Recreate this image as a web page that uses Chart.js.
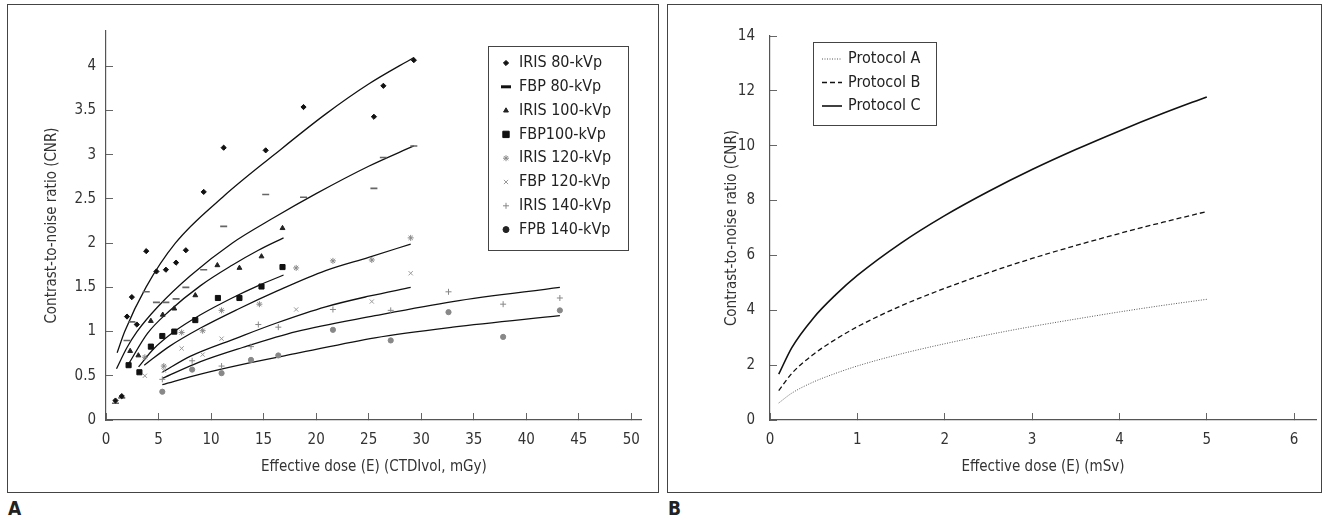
<!DOCTYPE html>
<html lang="en">
<head>
<meta charset="UTF-8">
<title>CNR vs effective dose</title>
<script src="https://cdn.jsdelivr.net/npm/chart.js"></script>
<style>
    body { margin: 0; background: #fff; width: 1328px; height: 520px; position: relative; overflow: hidden;
           font-family: "DejaVu Sans Condensed", "DejaVu Sans", sans-serif; }
    .panel { position: absolute; top: 4px; height: 487px; border: 1px solid #444; }
    #panelA { left: 7px; width: 650px; }
    #panelB { left: 667px; width: 653px; }
    .panel canvas { position: absolute; left: 0; top: 0; }
    .tag { position: absolute; top: 497px; font-weight: bold; font-size: 19px; color: #222; }
</style>
</head>
<body>
<div class="panel" id="panelA"><canvas id="chartA" width="650" height="487"></canvas></div>
<div class="panel" id="panelB"><canvas id="chartB" width="653" height="487"></canvas></div>
<div class="tag" style="left:8px">A</div>
<div class="tag" style="left:668px">B</div>

<script>
// ---- panel A: measured points (CTDIvol, CNR) ----
const iris80X = [0.9, 1.5, 2.0, 2.46, 2.93, 3.83, 4.8, 5.7, 6.67, 7.6, 9.3, 11.2, 15.2, 18.8, 25.5, 26.4, 29.3];
const iris80Y = [0.22, 0.27, 1.17, 1.39, 1.08, 1.91, 1.68, 1.70, 1.78, 1.92, 2.58, 3.08, 3.05, 3.54, 3.43, 3.78, 4.07];
const fbp80X = [0.9, 1.5, 2.0, 2.46, 3.83, 4.8, 5.7, 6.67, 7.6, 9.3, 11.2, 15.2, 18.8, 25.5, 26.4, 29.3];
const fbp80Y = [0.19, 0.25, 0.90, 1.11, 1.45, 1.33, 1.33, 1.37, 1.50, 1.70, 2.19, 2.55, 2.52, 2.62, 2.97, 3.10];
const iris100X = [2.3, 3.08, 4.27, 5.4, 6.5, 8.5, 10.6, 12.7, 14.8, 16.8];
const iris100Y = [0.78, 0.73, 1.12, 1.19, 1.26, 1.41, 1.75, 1.72, 1.85, 2.17];
const fbp100X = [2.15, 3.18, 4.27, 5.36, 6.5, 8.5, 10.65, 12.7, 14.8, 16.8];
const fbp100Y = [0.62, 0.54, 0.83, 0.95, 1.00, 1.13, 1.38, 1.38, 1.51, 1.73];
const iris120X = [3.7, 5.5, 7.2, 9.2, 11.0, 14.6, 18.1, 21.6, 25.3, 29.0];
const iris120Y = [0.71, 0.61, 0.99, 1.01, 1.24, 1.31, 1.72, 1.80, 1.81, 2.06];
const fbp120X = [3.7, 5.5, 7.2, 9.2, 11.0, 18.1, 25.3, 29.0];
const fbp120Y = [0.50, 0.56, 0.81, 0.74, 0.92, 1.25, 1.34, 1.66];
const iris140X = [5.36, 8.2, 11.0, 13.8, 14.5, 16.4, 21.6, 27.1, 32.6, 37.8, 43.2];
const iris140Y = [0.46, 0.67, 0.61, 0.83, 1.08, 1.05, 1.25, 1.24, 1.45, 1.31, 1.38];
const fbp140X = [5.36, 8.2, 11.0, 13.8, 16.4, 21.6, 27.1, 32.6, 37.8, 43.2];
const fbp140Y = [0.32, 0.57, 0.53, 0.68, 0.73, 1.02, 0.90, 1.22, 0.94, 1.24];

// ---- panel A: fitted curves ----
const fitIris80X = [1.06, 1.78, 3.8, 6.6, 11.1, 16, 20.9, 25, 29.3];
const fitIris80Y = [0.76, 1.00, 1.50, 2.00, 2.52, 3.00, 3.46, 3.80, 4.10];
const fitFbp80X = [1.0, 2.0, 2.95, 5, 8, 12, 16, 20, 25, 29.3];
const fitFbp80Y = [0.58, 0.82, 1.00, 1.29, 1.63, 2.00, 2.29, 2.56, 2.87, 3.10];
const fitIris100X = [2.18, 3.95, 6, 9, 12, 14.5, 16.9];
const fitIris100Y = [0.64, 0.98, 1.23, 1.52, 1.75, 1.92, 2.06];
const fitFbp100X = [3.1, 4.5, 6.5, 9, 12, 14.5, 16.9];
const fitFbp100Y = [0.60, 0.80, 1.00, 1.19, 1.38, 1.52, 1.64];
const fitIris120X = [3.64, 6, 9, 12.5, 16.3, 20.9, 25, 29];
const fitIris120Y = [0.62, 0.83, 1.04, 1.25, 1.46, 1.69, 1.84, 1.99];
const fitFbp120X = [5.36, 8, 12.5, 16.3, 20.9, 25, 29];
const fitFbp120Y = [0.54, 0.72, 0.93, 1.10, 1.28, 1.40, 1.50];
const fitIris140X = [5.36, 9, 13, 18.1, 25.6, 33, 43.2];
const fitIris140Y = [0.47, 0.66, 0.82, 1.00, 1.18, 1.34, 1.50];
const fitFbp140X = [5.36, 9, 13, 18, 25.6, 33, 43.2];
const fitFbp140Y = [0.40, 0.52, 0.63, 0.75, 0.93, 1.05, 1.18];

// ---- panel B: protocol curves (mSv, CNR) ----
const doseB = [0.1, 0.25, 0.5, 0.75, 1, 1.5, 2, 2.5, 3, 3.5, 4, 4.5, 5];
const protocolA = [0.62, 0.98, 1.39, 1.70, 1.97, 2.41, 2.78, 3.11, 3.41, 3.68, 3.94, 4.18, 4.40];
const protocolB = [1.07, 1.70, 2.40, 2.94, 3.40, 4.16, 4.80, 5.37, 5.89, 6.36, 6.80, 7.21, 7.60];
const protocolC = [1.67, 2.64, 3.73, 4.56, 5.27, 6.45, 7.45, 8.33, 9.13, 9.86, 10.54, 11.18, 11.78];

const FONT = "'DejaVu Sans Condensed', 'DejaVu Sans', sans-serif";
Chart.defaults.font.family = FONT;
Chart.defaults.color = '#333';

function pts(xs, ys) {
    return xs.map((x, i) => ({ x: x, y: ys[i] }));
}

// legend drawn in a framed box inside the plot
const boxLegend = {
    id: 'boxLegend',
    afterDraw(chart, args, o) {
        const ctx = chart.ctx;
        ctx.save();
        ctx.strokeStyle = '#444';
        ctx.lineWidth = 1;
        ctx.strokeRect(o.x + 0.5, o.y + 0.5, o.w, o.h);
        ctx.font = '16px ' + FONT;
        ctx.textBaseline = 'middle';
        let row = 0;
        chart.data.datasets.forEach(ds => {
            if (!ds.inLegend) return;
            const cy = o.y + o.first + row * o.rowH;
            if (o.lines) {
                ctx.strokeStyle = ds.borderColor;
                ctx.lineWidth = ds.borderWidth;
                ctx.setLineDash(ds.borderDash || []);
                ctx.beginPath();
                ctx.moveTo(o.x + o.markX, cy);
                ctx.lineTo(o.x + o.markX + 20, cy);
                ctx.stroke();
                ctx.setLineDash([]);
            } else {
                ctx.fillStyle = ds.legendColor || ds.backgroundColor;
                ctx.strokeStyle = ds.legendColor || ds.borderColor;
                ctx.lineWidth = ds.legendWidth || ds.borderWidth;
                Chart.helpers.drawPoint(ctx, {
                    pointStyle: ds.pointStyle,
                    radius: ds.legendRadius || ds.pointRadius,
                    borderWidth: ds.legendWidth || ds.borderWidth,
                    rotation: 0
                }, o.x + o.markX, cy);
            }
            ctx.fillStyle = '#222';
            ctx.fillText(ds.label, o.x + o.textX, cy);
            row++;
        });
        ctx.restore();
    }
};

function axisX(title, max, step, titleFont) {
    return {
        type: 'linear', min: 0, max: max,
        ticks: { stepSize: step, includeBounds: false, padding: 18, font: { size: 15 }, color: '#333' },
        grid: { drawOnChartArea: false, tickLength: -7, color: '#666', tickWidth: 1 },
        border: { color: '#555', width: 1.2 },
        title: { display: true, text: title, font: { size: 15 }, color: '#333', padding: { top: 0, bottom: 16 } },
        afterFit: s => { s.height = 72; }
    };
}

function axisY(title, max, step, width, pad, titlePad) {
    return {
        type: 'linear', min: 0, max: max,
        ticks: { stepSize: step, includeBounds: false, padding: pad, font: { size: 15 }, color: '#333',
                 callback: v => String(v) },
        grid: { drawOnChartArea: false, tickLength: -7, color: '#666', tickWidth: 1 },
        border: { color: '#555', width: 1.2 },
        title: { display: true, text: title, font: { size: 15 }, color: '#333', padding: { top: titlePad, bottom: 0 } },
        afterFit: s => { s.width = width; }
    };
}

function marks(label, xs, ys, style, color, radius, extra) {
    return Object.assign({
        label: label, inLegend: true, data: pts(xs, ys), showLine: false,
        pointStyle: style, pointRadius: radius, backgroundColor: color, borderColor: color,
        borderWidth: 1, pointHoverRadius: radius
    }, extra || {});
}

function fit(xs, ys) {
    return {
        data: pts(xs, ys), showLine: true, pointRadius: 0, borderColor: '#111', borderWidth: 1.3,
        cubicInterpolationMode: 'monotone', fill: false
    };
}

new Chart(document.getElementById('chartA'), {
    type: 'scatter',
    data: {
        datasets: [
            marks('IRIS 80-kVp', iris80X, iris80Y, 'rectRot', '#111', 2.6),
            marks('FBP 80-kVp', fbp80X, fbp80Y, 'line', '#666', 3.5, { borderWidth: 1.6, legendColor: '#111', legendWidth: 3, legendRadius: 5 }),
            marks('IRIS 100-kVp', iris100X, iris100Y, 'triangle', '#222', 2.8),
            marks('FBP100-kVp', fbp100X, fbp100Y, 'rect', '#111', 3.6, { legendRadius: 4.5 }),
            marks('IRIS 120-kVp', iris120X, iris120Y, 'star', '#888', 3),
            marks('FBP 120-kVp', fbp120X, fbp120Y, 'crossRot', '#999', 3),
            marks('IRIS 140-kVp', iris140X, iris140Y, 'cross', '#888', 3),
            marks('FPB 140-kVp', fbp140X, fbp140Y, 'circle', '#888', 2.6, { legendColor: '#222', legendRadius: 3 }),
            fit(fitIris80X, fitIris80Y),
            fit(fitFbp80X, fitFbp80Y),
            fit(fitIris100X, fitIris100Y),
            fit(fitFbp100X, fitFbp100Y),
            fit(fitIris120X, fitIris120Y),
            fit(fitFbp120X, fitFbp120Y),
            fit(fitIris140X, fitIris140Y),
            fit(fitFbp140X, fitFbp140Y)
        ]
    },
    options: {
        responsive: false, animation: false,
        layout: { padding: { left: 0, right: 5, top: 13, bottom: 0 } },
        plugins: {
            legend: { display: false }, tooltip: { enabled: false },
            boxLegend: { x: 480, y: 41, w: 140, h: 204, markX: 18, textX: 31, first: 17, rowH: 23.8 }
        },
        scales: {
            x: axisX('Effective dose (E) (CTDIvol, mGy)', 51, 5),
            y: axisY('Contrast-to-noise ratio (CNR)', 4.4, 0.5, 98, 17, 35)
        }
    },
    plugins: [boxLegend]
});

new Chart(document.getElementById('chartB'), {
    type: 'line',
    data: {
        datasets: [
            { label: 'Protocol A', inLegend: true, data: pts(doseB, protocolA), borderColor: '#555', borderWidth: 1,
              borderDash: [1, 1.5], pointRadius: 0, cubicInterpolationMode: 'monotone' },
            { label: 'Protocol B', inLegend: true, data: pts(doseB, protocolB), borderColor: '#111', borderWidth: 1.3,
              borderDash: [5, 3], pointRadius: 0, cubicInterpolationMode: 'monotone' },
            { label: 'Protocol C', inLegend: true, data: pts(doseB, protocolC), borderColor: '#111', borderWidth: 1.6,
              pointRadius: 0, cubicInterpolationMode: 'monotone' }
        ]
    },
    options: {
        responsive: false, animation: false,
        layout: { padding: { left: 0, right: 5, top: 22, bottom: 0 } },
        plugins: {
            legend: { display: false }, tooltip: { enabled: false },
            boxLegend: { x: 145, y: 37, w: 123, h: 83, lines: true, markX: 9, textX: 35, first: 17, rowH: 23.5 }
        },
        scales: {
            x: axisX('Effective dose (E) (mSv)', 6.25, 1),
            y: axisY('Contrast-to-noise ratio (CNR)', 14, 2, 102, 22, 55)
        }
    },
    plugins: [boxLegend]
});
</script>
</body>
</html>
